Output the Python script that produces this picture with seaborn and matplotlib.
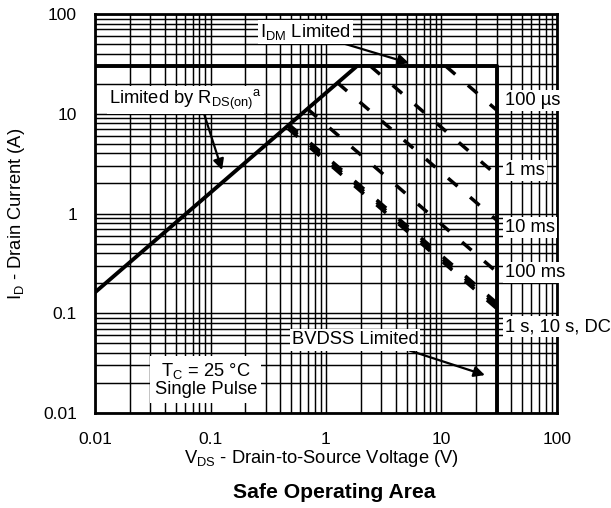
import matplotlib
matplotlib.use("Agg")
import matplotlib.pyplot as plt
import matplotlib.ticker as mticker
import numpy as np
import pandas as pd
import seaborn as sns

# ---------------- data ----------------
x_ticks = [0.01, 0.1, 1, 10, 100]
x_tick_labels = ["0.01", "0.1", "1", "10", "100"]
y_ticks = [0.01, 0.1, 1, 10, 100]
y_tick_labels = ["0.01", "0.1", "1", "10", "100"]

# RDS(on) limit line
rds_v = [0.01, 1.85]
rds_i = [0.162, 30.0]
# IDM / BVDSS boundary
bound_v = [0.01, 30.0, 30.0]
bound_i = [30.0, 30.0, 0.01]

# pulse-duration curves (start / end points)
pulse_names = ["100 µs", "1 ms", "10 ms", "100 ms", "1 s", "10 s", "DC"]
pulse_v_start = [10.9, 2.43, 1.26, 0.69, 0.47, 0.47, 0.47]
pulse_i_start = [30.0, 30.0, 20.4, 11.2, 7.9, 7.5, 7.1]
pulse_v_end = [30.0, 30.0, 30.0, 30.0, 30.0, 30.0, 30.0]
pulse_i_end = [10.9, 2.43, 0.86, 0.26, 0.127, 0.119, 0.112]

# ---------------- style ----------------
sns.set_style("white")
plt.rcParams["font.family"] = ["Liberation Sans", "DejaVu Sans"]
plt.rcParams["mathtext.fontset"] = "custom"
plt.rcParams["mathtext.rm"] = "Liberation Sans"
plt.rcParams["mathtext.it"] = "Liberation Sans:italic"
plt.rcParams["mathtext.bf"] = "Liberation Sans:bold"
for k in ["text.color", "axes.labelcolor", "xtick.color", "ytick.color",
          "xtick.labelcolor", "ytick.labelcolor"]:
    plt.rcParams[k] = "black"

FS = 13.2

fig = plt.figure(figsize=(6.11, 5.08), dpi=100)
ax = fig.add_axes([0.1555, 0.187, 0.7561, 0.7854])
ax.set_xscale("log")
ax.set_yscale("log")
ax.set_xlim(0.01, 100)
ax.set_ylim(0.01, 100)

ax.xaxis.set_major_locator(mticker.FixedLocator(x_ticks))
ax.xaxis.set_major_formatter(mticker.FixedFormatter(x_tick_labels))
ax.yaxis.set_major_locator(mticker.FixedLocator(y_ticks))
ax.yaxis.set_major_formatter(mticker.FixedFormatter(y_tick_labels))
ax.xaxis.set_minor_locator(mticker.LogLocator(base=10, subs=np.arange(2, 10)))
ax.yaxis.set_minor_locator(mticker.LogLocator(base=10, subs=np.arange(2, 10)))
ax.xaxis.set_minor_formatter(mticker.NullFormatter())
ax.yaxis.set_minor_formatter(mticker.NullFormatter())
ax.tick_params(which="both", length=0)
ax.tick_params(axis="x", pad=14, labelsize=12.5)
ax.tick_params(axis="y", pad=13, labelsize=12.5)
ax.grid(which="both", color="black", lw=1.05)
ax.set_axisbelow(True)
for s in ax.spines.values():
    s.set_linewidth(2.0)
    s.set_color("black")

# RDS limit
sns.lineplot(x=rds_v, y=rds_i, ax=ax, color="black", lw=2.8, sort=False,
             estimator=None)
# boundary
sns.lineplot(x=bound_v, y=bound_i, ax=ax, color="black", lw=2.8, sort=False,
             estimator=None)

# pulse curves
df = pd.DataFrame({
    "name": np.repeat(pulse_names, 2),
    "v": np.ravel(np.column_stack([pulse_v_start, pulse_v_end])),
    "i": np.ravel(np.column_stack([pulse_i_start, pulse_i_end])),
})
for name, g in df.groupby("name", sort=False):
    sns.lineplot(data=g, x="v", y="i", ax=ax, color="black", lw=2.5,
                 sort=False, estimator=None, linestyle=(0, (3.6, 4.8)))

ax.set_xlabel(r"V$_\mathregular{DS}$ - Drain-to-Source Voltage (V)", fontsize=FS)
ax.set_ylabel(r"I$_\mathregular{D}$ - Drain Current (A)", fontsize=FS)
ax.xaxis.set_label_coords(0.49, -0.113)
ax.xaxis.label.set_va("center")
ax.yaxis.set_label_coords(-0.169, 0.5)
ax.yaxis.label.set_va("center")

box = dict(facecolor="white", edgecolor="none", pad=1.5)
arrow = dict(arrowstyle="-|>", color="black", lw=1.6, mutation_scale=16,
             shrinkA=0, shrinkB=0)

# right-hand labels
right_labels = ["100 µs", "1 ms", "10 ms", "100 ms", "1 s, 10 s, DC"]
right_y = [0.784, 0.609, 0.466, 0.351, 0.216]
for lab, yy in zip(right_labels, right_y):
    ax.text(0.887, yy, lab, transform=ax.transAxes, ha="left", va="center",
            fontsize=FS, bbox=box, clip_on=False)

# annotations
ax.annotate(r"I$_\mathregular{DM}$ Limited", xy=(0.6797, 0.877),
            xytext=(0.455, 0.955), textcoords="axes fraction",
            xycoords="axes fraction", ha="center", va="center",
            fontsize=FS, bbox=box, arrowprops=arrow)
ax.annotate(r"Limited by R$_\mathregular{DS(on)}$$^\mathregular{a}$",
            xy=(0.2749, 0.609), xytext=(0.195, 0.785),
            xycoords="axes fraction", textcoords="axes fraction",
            ha="center", va="center", fontsize=FS, bbox=box,
            arrowprops=dict(arrow, relpos=(0.62, 0.0)))
ax.annotate("BVDSS Limited", xy=(0.844, 0.095), xytext=(0.563, 0.183),
            xycoords="axes fraction", textcoords="axes fraction",
            ha="center", va="center", fontsize=FS, bbox=box,
            arrowprops=dict(arrow, relpos=(0.88, 0.0)))
ax.text(0.24, 0.083, "T$_\\mathregular{C}$ = 25 °C\nSingle Pulse",
        transform=ax.transAxes, ha="center", va="center", fontsize=FS,
        linespacing=1.0, bbox=dict(facecolor="white", edgecolor="none", pad=3))

fig.text(334 / 611, 1 - 492 / 508, "Safe Operating Area", ha="center",
         va="center", fontsize=15.2, fontweight="bold")

fig.savefig("out.png", dpi=100)
